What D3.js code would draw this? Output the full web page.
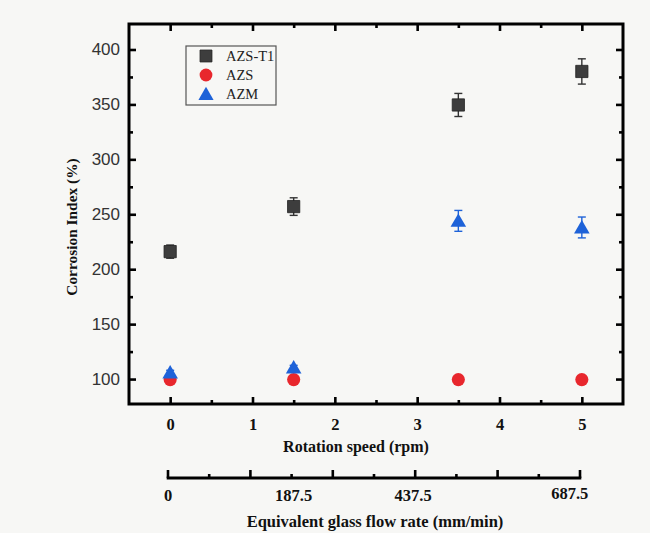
<!DOCTYPE html>
<html>
<head>
<meta charset="utf-8">
<script src="https://cdn.jsdelivr.net/npm/d3@7"></script>
<style>
  body { margin: 0; background: #f7f7f5; }
  svg { display: block; }
</style>
</head>
<body>
<svg id="svg"></svg>
<script>
// ---- data ----
const speeds = [0, 1.5, 3.5, 5]
const azsT1 = [216, 257, 349.5, 380]
const azsT1Err = [6, 8, 10.5, 11.5]
const azs = [99.5, 99.5, 99.5, 99.5]
const azm = [106, 110.5, 244, 238]
const azmErr = [2, 2, 9.5, 9.5]
const seriesNames = ['AZS-T1', 'AZS', 'AZM']
const yTicks = [100, 150, 200, 250, 300, 350, 400]
const xTicks = [0, 1, 2, 3, 4, 5]
const flowLabels = ['0', '187.5', '437.5', '687.5']
const flowLabelPos = [0, 3.05, 5.95, 9.75]   // position along the lower axis (tick units)

// ---- setup ----
let width = 650
let height = 533
let margin = {top: 24, left: 129, bottom: 404, right: 623}
let svg = d3.select('#svg').attr('width', width).attr('height', height)

svg.append('rect').attr('width', width).attr('height', height).attr('fill', '#f7f7f5')

let xScale = d3.scaleLinear().domain([-0.5, 5.5]).range([margin.left, margin.right])
let yScale = d3.scaleLinear().domain([77.3, 423.2]).range([margin.bottom, margin.top])

const serif = "'Liberation Serif', 'Times New Roman', serif"
const sans = "'Liberation Sans', Arial, sans-serif"

// minor tick positions
let minorX = [0.5, 1.5, 2.5, 3.5, 4.5]
let minorY = [125, 175, 225, 275, 325, 375]

function styleAxis(g) {
  g.select('.domain').remove()
  g.selectAll('.tick line').attr('stroke', '#000').attr('stroke-width', 2.6)
}

// bottom (ticks point inward)
svg.append('g').attr('transform', `translate(0,${margin.bottom})`)
  .call(d3.axisBottom(xScale).tickValues(xTicks).tickFormat(d3.format('d'))
    .tickSizeInner(-7).tickSizeOuter(0).tickPadding(14))
  .call(styleAxis)
  .call(g => g.selectAll('text').attr('font-family', serif).attr('font-weight', 'bold')
    .attr('font-size', 16.5).attr('fill', '#111'))
svg.append('g').attr('transform', `translate(0,${margin.bottom})`)
  .call(d3.axisBottom(xScale).tickValues(minorX).tickSize(-4).tickFormat(''))
  .call(styleAxis)
// top
svg.append('g').attr('transform', `translate(0,${margin.top})`)
  .call(d3.axisTop(xScale).tickValues(xTicks).tickSize(-7).tickFormat(''))
  .call(styleAxis)
svg.append('g').attr('transform', `translate(0,${margin.top})`)
  .call(d3.axisTop(xScale).tickValues(minorX).tickSize(-4).tickFormat(''))
  .call(styleAxis)
// left
svg.append('g').attr('transform', `translate(${margin.left},0)`)
  .call(d3.axisLeft(yScale).tickValues(yTicks).tickFormat(d3.format('d'))
    .tickSizeInner(-7).tickSizeOuter(0).tickPadding(9))
  .call(styleAxis)
  .call(g => g.selectAll('text').attr('font-family', sans).attr('font-size', 17).attr('fill', '#333'))
svg.append('g').attr('transform', `translate(${margin.left},0)`)
  .call(d3.axisLeft(yScale).tickValues(minorY).tickSize(-4).tickFormat(''))
  .call(styleAxis)
// right
svg.append('g').attr('transform', `translate(${margin.right},0)`)
  .call(d3.axisRight(yScale).tickValues(yTicks).tickSize(-7).tickFormat(''))
  .call(styleAxis)
svg.append('g').attr('transform', `translate(${margin.right},0)`)
  .call(d3.axisRight(yScale).tickValues(minorY).tickSize(-4).tickFormat(''))
  .call(styleAxis)

// frame, drawn as a closed path
let frame = d3.path()
frame.rect(margin.left, margin.top, margin.right - margin.left, margin.bottom - margin.top)
svg.append('path').attr('d', frame.toString())
  .attr('fill', 'none').attr('stroke', '#000').attr('stroke-width', 3)
  .attr('stroke-linejoin', 'miter')

// axis titles
svg.append('text').attr('x', 356).attr('y', 452).attr('text-anchor', 'middle')
  .attr('font-family', serif).attr('font-weight', 'bold').attr('font-size', 16).attr('fill', '#111')
  .text('Rotation speed (rpm)')
svg.append('text').attr('transform', 'translate(77,227) rotate(-90)').attr('text-anchor', 'middle')
  .attr('font-family', serif).attr('font-weight', 'bold').attr('font-size', 15.4).attr('fill', '#111')
  .text('Corrosion Index (%)')

// ---- secondary (flow rate) axis ----
let flowScale = d3.scaleLinear().domain([0, 10]).range([168, 580])
let flowY = 478
let flowG = svg.append('g')
flowG.append('line').attr('x1', flowScale(0) - 1.3).attr('x2', flowScale(10) + 1.3)
  .attr('y1', flowY).attr('y2', flowY).attr('stroke', '#000').attr('stroke-width', 2.8)
flowG.selectAll('.ft').data(d3.range(0, 11)).enter().append('line')
  .attr('x1', d => flowScale(d)).attr('x2', d => flowScale(d))
  .attr('y1', flowY).attr('y2', d => d % 2 === 0 ? flowY - 8 : flowY - 4)
  .attr('stroke', '#000').attr('stroke-width', 2.6)
flowG.selectAll('.fl').data(flowLabels).enter().append('text')
  .attr('x', (d, i) => flowScale(flowLabelPos[i]))
  .attr('y', (d, i) => i === 3 ? 499 : 501)
  .attr('text-anchor', 'middle')
  .attr('font-family', serif).attr('font-weight', 'bold').attr('font-size', 16.5).attr('fill', '#111')
  .text(d => d)
svg.append('text').attr('x', 375).attr('y', 527).attr('text-anchor', 'middle')
  .attr('font-family', serif).attr('font-weight', 'bold').attr('font-size', 16.5).attr('fill', '#111')
  .text('Equivalent glass flow rate (mm/min)')

// ---- marks ----
let plot = svg.append('g')
function errorBars(vals, errs, color) {
  let g = plot.append('g').attr('stroke', color).attr('stroke-width', 1.4)
  speeds.forEach((s, i) => {
    let x = xScale(s), y0 = yScale(vals[i] - errs[i]), y1 = yScale(vals[i] + errs[i])
    g.append('line').attr('x1', x).attr('x2', x).attr('y1', y0).attr('y2', y1)
    g.append('line').attr('x1', x - 4).attr('x2', x + 4).attr('y1', y0).attr('y2', y0)
    g.append('line').attr('x1', x - 4).attr('x2', x + 4).attr('y1', y1).attr('y2', y1)
  })
}
const colors = ['#3d3d3d', '#e8272d', '#1e62d8']
const symbols = [d3.symbolSquare, d3.symbolCircle, d3.symbolTriangle]
const sizes = [150, 135, 105]

errorBars(azsT1, azsT1Err, '#333')
errorBars(azm, azmErr, '#1e62d8')

let seriesVals = [azsT1, azs, azm]
seriesVals.forEach((vals, k) => {
  plot.selectAll(null).data(vals).enter().append('path')
    .attr('d', d3.symbol().type(symbols[k]).size(sizes[k]))
    .attr('transform', (d, i) => `translate(${xScale(speeds[i])},${yScale(d) + (k === 2 ? 1.5 : 0)})`)
    .attr('fill', colors[k])
    .attr('stroke', k === 0 ? '#222' : 'none')
    .attr('stroke-width', 0.8)
})

// ---- legend ----
let legend = svg.append('g')
legend.append('rect').attr('x', 186).attr('y', 46).attr('width', 90).attr('height', 59)
  .attr('fill', 'none').attr('stroke', '#555').attr('stroke-width', 1.2)
seriesNames.forEach((name, k) => {
  let cy = 56 + k * 19
  legend.append('path').attr('d', d3.symbol().type(symbols[k]).size(sizes[k] * 0.95))
    .attr('transform', `translate(206,${cy + (k === 2 ? 1.5 : 0)})`)
    .attr('fill', colors[k]).attr('stroke', k === 0 ? '#222' : 'none').attr('stroke-width', 0.8)
  legend.append('text').attr('x', 226).attr('y', cy + 5)
    .attr('font-family', serif).attr('font-size', 14.5).attr('fill', '#222').text(name)
})
</script>
</body>
</html>
